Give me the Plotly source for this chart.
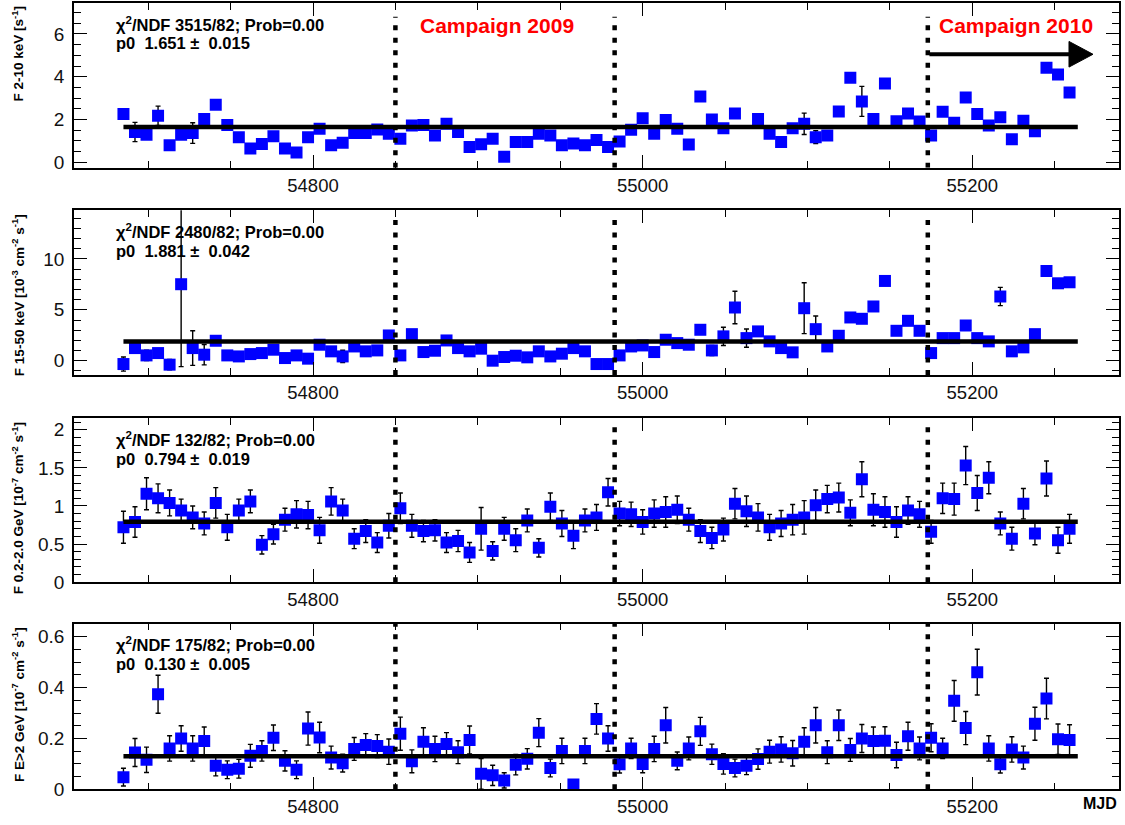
import plotly.graph_objects as go

W, H = 1125, 825

# ---------------- data ----------------
mjd = [54685, 54692, 54699, 54706, 54713, 54720, 54727, 54734, 54741, 54748,
       54755, 54762, 54769, 54776, 54783, 54790, 54797, 54804, 54811, 54818,
       54825, 54832, 54839, 54846, 54853, 54860, 54867, 54874, 54881, 54888,
       54895, 54902, 54909, 54916, 54923, 54930, 54937, 54944, 54951, 54958,
       54965, 54972, 54979, 54986, 54993, 55000, 55007, 55014, 55021, 55028,
       55035, 55042, 55049, 55056, 55063, 55070, 55077, 55084, 55091, 55098,
       55105, 55112, 55119, 55126, 55133, 55140, 55147, 55154, 55161, 55168,
       55175, 55182, 55189, 55196, 55203, 55210, 55217, 55224, 55231, 55238,
       55245, 55252, 55259]

xray_2_10 = [2.26, 1.42, 1.29, 2.18, 0.80, 1.29, 1.37, 2.03, 2.69, 1.75,
             1.17, 0.65, 0.86, 1.22, 0.65, 0.46, 1.18, 1.57, 0.80, 0.92,
             1.37, 1.37, 1.54, 1.34, 1.11, 1.72, 1.75, 1.26, 1.80, 1.42,
             0.72, 0.85, 1.11, 0.26, 0.95, 0.95, 1.34, 1.26, 0.80, 0.88,
             0.80, 1.05, 0.72, 0.98, 1.52, 2.06, 1.34, 1.98, 1.57, 0.83,
             3.08, 2.00, 1.60, 2.29, None, 2.03, 1.34, 0.95, 1.60, 1.80,
             1.18, 1.26, 2.38, 3.95, 2.85, 2.03, 3.69, 1.92, 2.29, 1.91,
             1.26, 2.37, 1.85, 3.03, 2.26, 1.72, 2.11, 1.08, 1.95, 1.45,
             4.42, 4.11, 3.26]
xray_2_10_err = [0.20, 0.45, 0.05, 0.45, 0.20, 0.05, 0.48, 0.05, 0.05, 0.05,
                 0.05, 0.05, 0.05, 0.05, 0.05, 0.05, 0.05, 0.05, 0.05, 0.05,
                 0.05, 0.05, 0.05, 0.05, 0.05, 0.05, 0.05, 0.05, 0.05, 0.05,
                 0.05, 0.05, 0.05, 0.05, 0.05, 0.05, 0.05, 0.05, 0.05, 0.05,
                 0.05, 0.05, 0.05, 0.05, 0.05, 0.05, 0.05, 0.05, 0.05, 0.05,
                 0.05, 0.05, 0.05, 0.15, 0.0, 0.20, 0.05, 0.05, 0.05, 0.50,
                 0.30, 0.05, 0.05, 0.05, 0.70, 0.05, 0.05, 0.05, 0.05, 0.05,
                 0.05, 0.05, 0.05, 0.05, 0.05, 0.05, 0.05, 0.05, 0.05, 0.05,
                 0.05, 0.05, 0.05]

hx_15_50 = [-0.33, 1.24, 0.52, 0.75, -0.39, 7.52, 1.24, 0.59, 1.96, 0.52,
            0.42, 0.65, 0.75, 1.08, 0.26, 0.52, 0.20, 1.57, 0.92, 0.42,
            1.40, 0.92, 1.01, 2.48, 0.52, 2.61, 0.85, 0.98, 1.99, 1.24,
            0.92, 1.18, 0.00, 0.36, 0.49, 0.33, 0.92, 0.42, 0.69, 1.24,
            0.92, -0.33, -0.33, 0.52, 1.40, 1.50, 0.85, 2.06, 1.73, 1.57,
            3.04, 1.01, 2.39, 5.23, 2.22, 2.88, 1.90, 1.24, 0.82, 5.16,
            3.10, 1.40, 2.45, 4.25, 4.12, 5.33, 7.84, 2.94, 3.92, 2.94,
            0.75, 2.22, 2.22, 3.46, 2.22, 1.90, 6.31, 0.92, 1.31, 2.61,
            8.82, 7.61, 7.71]
hx_15_50_err = [0.70, 0.30, 0.50, 0.30, 0.50, 8.10, 1.70, 1.00, 0.25, 0.25,
                0.25, 0.25, 0.25, 0.25, 0.25, 0.25, 0.25, 0.25, 0.25, 0.60,
                0.25, 0.25, 0.25, 0.25, 0.25, 0.25, 0.40, 0.25, 0.25, 0.25,
                0.25, 0.25, 0.25, 0.25, 0.25, 0.25, 0.25, 0.25, 0.25, 0.25,
                0.25, 0.25, 0.25, 0.25, 0.25, 0.25, 0.25, 0.25, 0.30, 0.25,
                0.25, 0.50, 0.90, 1.60, 0.90, 0.25, 0.25, 0.25, 0.25, 2.50,
                1.30, 0.25, 0.25, 0.25, 0.25, 0.25, 0.25, 0.25, 0.25, 0.25,
                0.25, 0.25, 0.30, 0.25, 0.25, 0.25, 0.90, 0.25, 0.25, 0.25,
                0.25, 0.25, 0.25]

lat_02_2 = [0.72, 0.79, 1.16, 1.10, 1.04, 0.94, 0.85, 0.77, 1.04, 0.72,
            0.94, 1.06, 0.49, 0.63, 0.82, 0.89, 0.88, 0.68, 1.06, 0.94,
            0.57, 0.67, 0.52, 0.74, 0.97, 0.74, 0.67, 0.68, 0.52, 0.54,
            0.39, 0.70, 0.41, 0.70, 0.55, 0.81, 0.45, 0.99, 0.77, 0.61,
            0.81, 0.85, 1.18, 0.90, 0.89, 0.79, 0.90, 0.92, 0.95, 0.82,
            0.67, 0.58, 0.69, 1.03, 0.93, 0.85, 0.72, 0.77, 0.82, 0.85,
            1.01, 1.09, 1.11, 0.91, 1.35, 0.95, 0.92, 0.79, 0.94, 0.89,
            0.66, 1.10, 1.09, 1.53, 1.17, 1.37, 0.77, 0.57, 1.03, 0.64,
            1.36, 0.55, 0.70]
lat_02_2_err = [0.21, 0.20, 0.21, 0.19, 0.17, 0.15, 0.15, 0.15, 0.20, 0.17,
                0.15, 0.15, 0.12, 0.13, 0.15, 0.18, 0.18, 0.17, 0.18, 0.15,
                0.13, 0.15, 0.13, 0.16, 0.20, 0.15, 0.14, 0.14, 0.13, 0.14,
                0.13, 0.28, 0.12, 0.15, 0.15, 0.15, 0.12, 0.18, 0.17, 0.17,
                0.15, 0.17, 0.18, 0.16, 0.16, 0.16, 0.18, 0.20, 0.18, 0.15,
                0.15, 0.14, 0.15, 0.20, 0.20, 0.18, 0.17, 0.17, 0.20, 0.22,
                0.20, 0.18, 0.19, 0.17, 0.23, 0.21, 0.20, 0.20, 0.18, 0.17,
                0.15, 0.20, 0.21, 0.25, 0.23, 0.21, 0.15, 0.15, 0.20, 0.15,
                0.23, 0.17, 0.19]

lat_gt2 = [0.048, 0.145, 0.116, 0.374, 0.161, 0.200, 0.161, 0.190, 0.093, 0.077,
           0.081, 0.132, 0.151, 0.203, 0.112, 0.077, 0.239, 0.204, 0.125, 0.103,
           0.159, 0.174, 0.170, 0.148, 0.219, 0.110, 0.187, 0.159, 0.178, 0.146,
           0.194, 0.061, 0.055, 0.035, 0.097, 0.120, 0.223, 0.084, 0.151, 0.019,
           0.151, 0.277, 0.200, 0.099, 0.161, 0.100, 0.159, 0.252, 0.112, 0.161,
           0.228, 0.138, 0.100, 0.084, 0.093, 0.119, 0.148, 0.157, 0.142, 0.187,
           0.252, 0.146, 0.252, 0.155, 0.200, 0.190, 0.191, 0.135, 0.209, 0.161,
           0.203, 0.161, 0.348, 0.241, 0.461, 0.161, 0.099, 0.157, 0.125, 0.258,
           0.357, 0.197, 0.194]
lat_gt2_err = [0.035, 0.055, 0.050, 0.075, 0.050, 0.050, 0.050, 0.055, 0.040, 0.035,
               0.037, 0.045, 0.040, 0.050, 0.040, 0.035, 0.065, 0.060, 0.045, 0.035,
               0.045, 0.045, 0.045, 0.050, 0.065, 0.045, 0.055, 0.050, 0.045, 0.045,
               0.055, 0.060, 0.040, 0.030, 0.040, 0.040, 0.055, 0.035, 0.050, 0.010,
               0.050, 0.060, 0.050, 0.035, 0.040, 0.035, 0.050, 0.070, 0.035, 0.045,
               0.055, 0.040, 0.040, 0.035, 0.035, 0.040, 0.045, 0.050, 0.050, 0.055,
               0.070, 0.045, 0.060, 0.045, 0.055, 0.055, 0.055, 0.050, 0.055, 0.045,
               0.055, 0.040, 0.080, 0.065, 0.090, 0.050, 0.035, 0.050, 0.045, 0.065,
               0.080, 0.060, 0.060]

# constant-fit results
fit_p0 = [1.651, 1.881, 0.794, 0.130]
fit_p0_err = [0.015, 0.042, 0.019, 0.005]
fit_chi2 = [3515, 2480, 132, 175]
fit_ndf = [82, 82, 82, 82]

campaign_bounds = [54850, 54983, 55173]
campaign_labels = ["Campaign 2009", "Campaign 2010"]

y_titles = ["F 2-10 keV [s<sup>-1</sup>]",
            "F 15-50 keV [10<sup>-3</sup> cm<sup>-2</sup> s<sup>-1</sup>]",
            "F 0.2-2.0 GeV [10<sup>-7</sup> cm<sup>-2</sup> s<sup>-1</sup>]",
            "F E&gt;2 GeV [10<sup>-7</sup> cm<sup>-2</sup> s<sup>-1</sup>]"]

# ---------------- layout helpers ----------------
FONT = "Liberation Sans, Arial, Helvetica, sans-serif"
x_range = [54655, 55289]
y_ranges = [[-0.25, 7.45], [-1.4, 14.8], [0, 2.15], [0, 0.652]]
y_dticks = [2, 5, 0.5, 0.2]
y_minor = [0.5, 1, 0.1, 0.05]
dash_top = [6.8, 14.5, 2.12, 0.65]
# panel frames in pixels (top, bottom)
panels_px = [(3, 170), (213, 380), (424, 590), (632, 800)]
x_dom = [74 / W, 1119 / W]

series = [(xray_2_10, xray_2_10_err), (hx_15_50, hx_15_50_err),
          (lat_02_2, lat_02_2_err), (lat_gt2, lat_gt2_err)]

fig = go.Figure()
layout = dict(width=W, height=H, margin=dict(l=0, r=0, t=0, b=0),
              paper_bgcolor="white", plot_bgcolor="white", showlegend=False,
              font=dict(family=FONT, color="black"))
shapes = []
annotations = []

for i in range(4):
    n = "" if i == 0 else str(i + 1)
    xa, ya = "x" + n, "y" + n
    top, bot = panels_px[i]
    ydom = [1 - bot / H, 1 - top / H]
    layout["xaxis" + n] = dict(
        domain=x_dom, range=x_range, anchor=ya, showline=True, linecolor="black",
        linewidth=1.6, mirror="ticks", ticks="inside", ticklen=13, tickwidth=1.4,
        tickcolor="black", tick0=0, dtick=200, tickformat="d", showgrid=False,
        zeroline=False, tickfont=dict(size=18.5, family=FONT, color="#111"),
        minor=dict(dtick=50, ticks="inside", ticklen=7, tickwidth=1.2,
                   tickcolor="black", showgrid=False))
    layout["yaxis" + n] = dict(
        domain=ydom, range=y_ranges[i], anchor=xa, showline=True, linecolor="black",
        linewidth=1.6, mirror="ticks", ticks="inside", ticklen=13, tickwidth=1.4,
        tickcolor="black", tick0=0, dtick=y_dticks[i], showgrid=False,
        zeroline=False, tickfont=dict(size=19, family=FONT, color="#111"),
        ticklabelstandoff=4,
        minor=dict(dtick=y_minor[i], ticks="inside", ticklen=7, tickwidth=1.2,
                   tickcolor="black", showgrid=False))

    vals, errs = series[i]
    fig.add_trace(go.Scatter(
        x=mjd, y=vals, mode="markers", xaxis=xa, yaxis=ya,
        marker=dict(symbol="square", size=12, color="#0000FF", line=dict(width=0)),
        error_y=dict(type="data", array=errs, color="black", thickness=1.4, width=2.5)))
    # constant fit line
    fig.add_trace(go.Scatter(
        x=[mjd[0], mjd[-1] + 5], y=[fit_p0[i], fit_p0[i]], mode="lines",
        xaxis=xa, yaxis=ya, line=dict(color="black", width=4.5)))

    # campaign boundaries
    for b in campaign_bounds:
        shapes.append(dict(type="line", xref=xa, yref=ya, x0=b, x1=b,
                           y0=y_ranges[i][0], y1=dash_top[i], layer="above",
                           line=dict(color="black", width=4.5, dash="5px,7.5px")))

    # fit statistics
    annotations.append(dict(
        xref="paper", yref="paper", x=114 / W, y=1 - (top + 21) / H,
        xanchor="left", yanchor="middle", showarrow=False,
        text="<b>\u03c7<sup>2</sup>/NDF %d/%d; Prob=0.00</b>" % (fit_chi2[i], fit_ndf[i]),
        font=dict(size=16.5, family=FONT, color="black")))
    p0fmt = "%.3f"
    annotations.append(dict(
        xref="paper", yref="paper", x=114 / W, y=1 - (top + 41) / H,
        xanchor="left", yanchor="middle", showarrow=False,
        text="<b>p0  " + p0fmt % fit_p0[i] + " \u00b1  " + p0fmt % fit_p0_err[i] + "</b>",
        font=dict(size=16.5, family=FONT, color="black")))
    # y title (ROOT style: aligned to the top end of the axis)
    annotations.append(dict(
        xref="paper", yref="paper", x=18 / W, y=1 - (top + 2) / H,
        xanchor="center", yanchor="top", showarrow=False, textangle=-90,
        text="<b>" + y_titles[i] + "</b>",
        font=dict(size=13.5, family=FONT, color="black")))

# campaign labels (top panel)
annotations.append(dict(xref="x", yref="paper", x=(campaign_bounds[0] + campaign_bounds[1]) / 2 - 5,
                        y=1 - 26 / H, xanchor="center", yanchor="middle", showarrow=False,
                        text="<b>" + campaign_labels[0] + "</b>",
                        font=dict(size=21, family=FONT, color="#FF0000")))
annotations.append(dict(xref="paper", yref="paper", x=1016 / W, y=1 - 26 / H,
                        xanchor="center", yanchor="middle", showarrow=False,
                        text="<b>" + campaign_labels[1] + "</b>",
                        font=dict(size=21, family=FONT, color="#FF0000")))
# arrow for campaign 2010
ay = 1 - 55 / H
shapes.append(dict(type="line", xref="x", yref="paper", x0=campaign_bounds[2] + 1, x1=55262,
                   y0=ay, y1=ay, line=dict(color="black", width=4), layer="above"))
shapes.append(dict(type="path", xref="paper", yref="paper", layer="above",
                   path="M %f,%f L %f,%f L %f,%f Z" % (1069 / W, 1 - 42 / H, 1093 / W, ay,
                                                     1069 / W, 1 - 68 / H),
                   fillcolor="black", line=dict(color="black", width=1)))
# MJD label
annotations.append(dict(xref="paper", yref="paper", x=1100 / W, y=1 - 814 / H,
                        xanchor="center", yanchor="middle", showarrow=False,
                        text="<b>MJD</b>", font=dict(size=16, family=FONT, color="black")))

layout["shapes"] = shapes
layout["annotations"] = annotations
fig.update_layout(**layout)
fig.write_html("out.html", config={"displayModeBar": False},
               post_script="document.body.style.margin='0';document.body.style.overflow='hidden';")
